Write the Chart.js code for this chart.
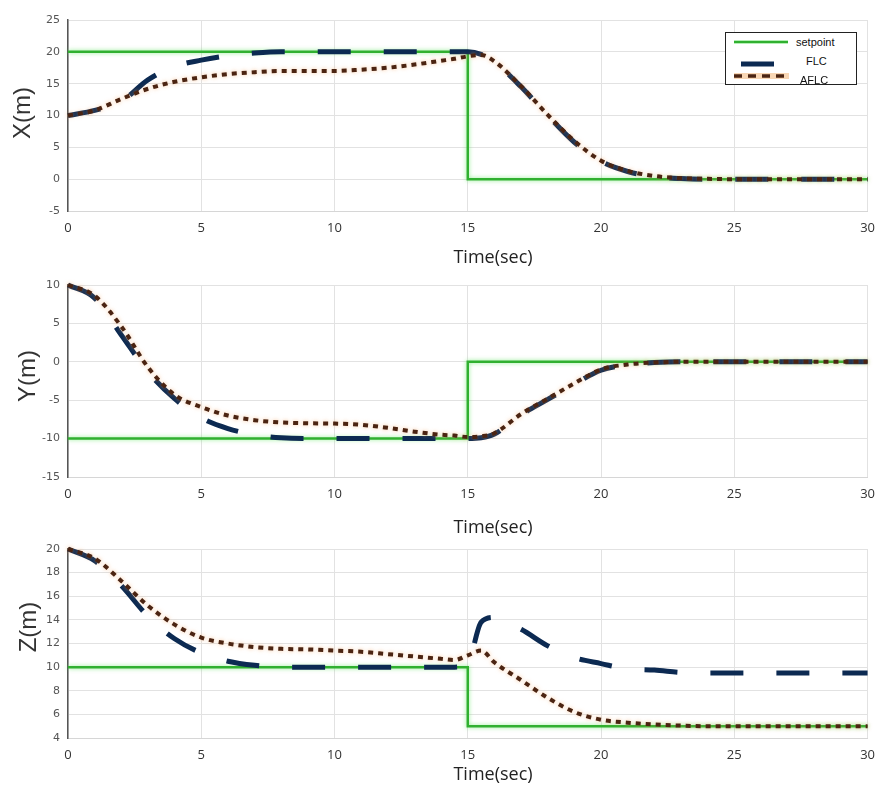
<!DOCTYPE html>
<html>
<head>
<meta charset="utf-8">
<title>Position tracking</title>
<script src="https://cdn.jsdelivr.net/npm/chart.js@4.4.1/dist/chart.umd.min.js"></script>
<style>
  body { margin: 0; background: #fff; }
  #page { position: relative; width: 884px; height: 785px; overflow: hidden; background: #fff; }
  #page canvas { position: absolute; left: 0; }
  .xlabel { position: absolute; font: 18px "Open Sans", sans-serif; color: #222;
            transform: translate(-50%, -50%); white-space: nowrap; }
  .ylabel { position: absolute; font: 24px "Liberation Sans", Arial, sans-serif; color: #333;
            transform: translate(-50%, -50%) rotate(-90deg); white-space: nowrap; }
  .legend { position: absolute; left: 725px; top: 32px; width: 130px; height: 51px;
            border: 1.5px solid #222; background: #fff; }
  .legend svg { position: absolute; left: 0; top: 0; }
  .legend span { position: absolute; font: 11px "Liberation Sans", Arial, sans-serif; color: #111;
                 transform: translateY(-50%); white-space: nowrap; }
</style>
</head>
<body>
<div id="page">
  <canvas id="chartX" width="884" height="245" style="top:0px"></canvas>
  <canvas id="chartY" width="884" height="270" style="top:245px"></canvas>
  <canvas id="chartZ" width="884" height="270" style="top:515px"></canvas>

  <div class="ylabel" style="left:22px; top:113px">X(m)</div>
  <div class="ylabel" style="left:27px; top:376px">Y(m)</div>
  <div class="ylabel" style="left:28px; top:627px">Z(m)</div>

  <div class="xlabel" style="left:493px; top:256px">Time(sec)</div>
  <div class="xlabel" style="left:493px; top:526px">Time(sec)</div>
  <div class="xlabel" style="left:493px; top:773px">Time(sec)</div>

  <div class="legend">
    <svg width="130" height="51">
      <line x1="8" y1="9" x2="62" y2="9" stroke="#b5efb5" stroke-width="4"/>
      <line x1="8" y1="9" x2="62" y2="9" stroke="#30b030" stroke-width="2"/>
      <line x1="15" y1="31" x2="48" y2="31" stroke="#0c2a52" stroke-width="5"/>
      <line x1="8" y1="43" x2="63" y2="43" stroke="#f8d6b4" stroke-width="6"/>
      <line x1="8" y1="43" x2="63" y2="43" stroke="#4b2412" stroke-width="3.5" stroke-dasharray="8 6"/>
    </svg>
    <span style="left:70px; top:9px">setpoint</span>
    <span style="left:80px; top:28px">FLC</span>
    <span style="left:74px; top:47px">AFLC</span>
  </div>
</div>

<script>
// time base for the controller responses (s)
const time = [0, 1, 2, 3, 4, 5, 6, 7, 8, 9, 10, 11, 12, 13, 14, 14.5, 15, 15.5,
              16, 17, 18, 19, 20, 21, 22, 23, 24, 25, 26, 27, 28, 29, 30];

// setpoint steps at t = 15 s
const setTime = [0, 15, 15, 30];
const xSet = [20, 20, 0, 0];
const ySet = [-10, -10, 0, 0];
const zSet = [10, 10, 5, 5];

// X position (m)
const xFLC  = [10, 10.8, 12.2, 15.6, 17.7, 18.7, 19.4, 19.8, 20, 20, 20, 20, 20, 20, 20, 20, 20, 19.6,
               18.4, 14.5, 10, 5.8, 2.8, 1.2, 0.4, 0.1, 0, 0, 0, 0, 0, 0, 0];
const xAFLC = [10, 10.8, 12.6, 14.2, 15.3, 16.0, 16.5, 16.8, 17.0, 17.0, 17.0, 17.2, 17.5, 18.0, 18.6, 18.9, 19.3, 19.5,
               18.5, 14.6, 10.1, 6.0, 2.9, 1.3, 0.5, 0.15, 0.05, 0, 0, 0, 0, 0, 0];

// Y position (m)
const yFLC  = [10, 8.3, 3.5, -1.3, -4.8, -7.3, -8.7, -9.5, -9.9, -10, -10, -10, -10, -10, -10, -10, -10, -9.9,
               -9.4, -6.9, -4.9, -2.9, -1.1, -0.4, -0.1, 0, 0, 0, 0, 0, 0, 0, 0];
const yAFLC = [10, 8.6, 4.6, -0.7, -4.3, -5.9, -7.0, -7.6, -7.9, -8.0, -8.05, -8.2, -8.6, -9.1, -9.5, -9.6, -9.8, -9.7,
               -9.3, -6.8, -4.8, -2.8, -1.0, -0.35, -0.1, 0, 0, 0, 0, 0, 0, 0, 0];

// Z position (m)
const zFLC  = [20, 19.0, 16.9, 14.3, 12.4, 11.2, 10.5, 10.15, 10.0, 10, 10, 10, 10, 10, 10, 10, 10.3, 13.8,
               14.2, 13.2, 11.8, 10.8, 10.3, 9.85, 9.75, 9.55, 9.5, 9.5, 9.5, 9.5, 9.5, 9.5, 9.5];
const zAFLC = [20, 19.2, 17.3, 15.2, 13.6, 12.5, 12.0, 11.7, 11.55, 11.5, 11.4, 11.3, 11.1, 10.9, 10.7, 10.6, 11.0, 11.4,
               10.4, 8.9, 7.4, 6.2, 5.55, 5.3, 5.15, 5.05, 5.0, 5, 5, 5, 5, 5, 5];

// tick labels
const timeTicks = [0, 5, 10, 15, 20, 25, 30];
const xTicks = [-5, 0, 5, 10, 15, 20, 25];
const yTicks = [-15, -10, -5, 0, 5, 10];
const zTicks = [4, 6, 8, 10, 12, 14, 16, 18, 20];

function pts(ts, vs) {
    return ts.map((t, i) => ({ x: t, y: vs[i] }));
}

// soft halo around a line, the way the exported plot smears colour
const glow = {
    id: 'glow',
    beforeDatasetDraw(chart, args) {
        const ds = chart.data.datasets[args.index];
        if (!ds.glowColor) return;
        chart.ctx.save();
        chart.ctx.shadowColor = ds.glowColor;
        chart.ctx.shadowBlur = ds.glowBlur;
    },
    afterDatasetDraw(chart, args) {
        if (chart.data.datasets[args.index].glowColor) chart.ctx.restore();
    }
};

function makePanel(id, sp, flc, aflc, yMin, yMax, yTickList, padTop, xHeight) {
    new Chart(document.getElementById(id), {
        type: 'line',
        data: {
            datasets: [
                {
                    label: 'AFLC',
                    data: pts(time, aflc),
                    borderColor: '#4b2412',
                    borderWidth: 4,
                    borderDash: [5, 5],
                    glowColor: 'rgba(245, 160, 90, 0.6)',
                    glowBlur: 4,
                    cubicInterpolationMode: 'monotone',
                    pointRadius: 0,
                    clip: 6,
                    order: 0
                },
                {
                    label: 'FLC',
                    data: pts(time, flc),
                    borderColor: '#0c2a52',
                    borderWidth: 5,
                    borderDash: [33, 33],
                    borderCapStyle: 'butt',
                    cubicInterpolationMode: 'monotone',
                    pointRadius: 0,
                    clip: 6,
                    order: 1
                },
                {
                    label: 'setpoint',
                    data: pts(setTime, sp),
                    borderColor: '#30b030',
                    borderWidth: 2.5,
                    glowColor: 'rgba(90, 230, 90, 0.7)',
                    glowBlur: 4,
                    tension: 0,
                    pointRadius: 0,
                    clip: 6,
                    order: 2
                }
            ]
        },
        options: {
            responsive: false,
            animation: false,
            layout: { padding: { top: padTop, right: 12, left: 0, bottom: 0 } },
            plugins: {
                legend: { display: false },
                tooltip: { enabled: false }
            },
            scales: {
                x: {
                    type: 'linear',
                    min: 0,
                    max: 30,
                    afterBuildTicks: s => { s.ticks = timeTicks.map(v => ({ value: v })); },
                    afterFit: s => { s.height = xHeight; },
                    grid: { color: '#e2e2e2', drawTicks: false },
                    border: { color: '#d6d6d6', width: 1 },
                    ticks: {
                        padding: 9,
                        color: '#333',
                        font: { family: 'Open Sans', size: 13 }
                    }
                },
                y: {
                    min: yMin,
                    max: yMax,
                    afterBuildTicks: s => { s.ticks = yTickList.map(v => ({ value: v })); },
                    afterFit: s => { s.width = 68; },
                    grid: { color: '#e2e2e2', drawTicks: false },
                    border: { color: '#555', width: 1.5 },
                    ticks: {
                        padding: 8,
                        color: '#555',
                        font: { family: 'DejaVu Sans', size: 11 }
                    }
                }
            }
        },
        plugins: [glow]
    });
}

makePanel('chartX', xSet, xFLC, xAFLC, -5, 25, xTicks, 20, 34);
makePanel('chartY', ySet, yFLC, yAFLC, -15, 10, yTicks, 40, 38);
makePanel('chartZ', zSet, zFLC, zAFLC, 4, 20, zTicks, 34, 47);
</script>
</body>
</html>
